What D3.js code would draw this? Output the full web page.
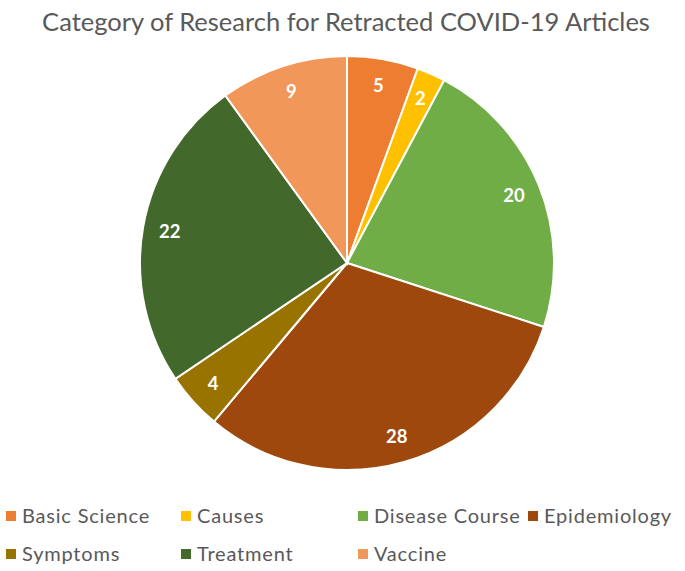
<!DOCTYPE html>
<html>
<head>
<meta charset="utf-8">
<script src="https://cdn.jsdelivr.net/npm/d3@7"></script>
<style>
  body { margin: 0; background: #fff; }
  svg { display: block; font-family: "Lato", "Open Sans", sans-serif; }
</style>
</head>
<body>
<div id="chart"></div>
<script>
// Data
var categories = ["Basic Science", "Causes", "Disease Course", "Epidemiology", "Symptoms", "Treatment", "Vaccine"];
var counts = [5, 2, 20, 28, 4, 22, 9];
var colors = ["#ED7D31", "#FFC000", "#70AD47", "#9E480E", "#997300", "#43682B", "#F1975A"];

var width = 685, height = 571;
var cx = 347, cy = 263, radius = 207;

var svg = d3.select("#chart")
  .append("svg")
  .attr("width", width)
  .attr("height", height);

// Title
svg.append("text")
  .attr("x", 346)
  .attr("y", 31)
  .attr("text-anchor", "middle")
  .attr("fill", "#595959")
  .style("font-size", "25.5px")
  .text("Category of Research for Retracted COVID-19 Articles");

var data = categories.map(function(c, i) {
  return { name: c, value: counts[i], color: colors[i] };
});

var pie = d3.pie()
  .sort(null)
  .value(function(d) { return d.value; });

var arc = d3.arc()
  .innerRadius(0)
  .outerRadius(radius);

var labelArc = d3.arc()
  .innerRadius(radius * 0.87)
  .outerRadius(radius * 0.87);

var g = svg.append("g")
  .attr("transform", "translate(" + cx + "," + cy + ")");

var slices = g.selectAll("g.slice")
  .data(pie(data))
  .enter()
  .append("g")
  .attr("class", "slice");

slices.append("path")
  .attr("d", arc)
  .attr("fill", function(d) { return d.data.color; })
  .attr("stroke", "#fff")
  .attr("stroke-width", 2);

slices.append("text")
  .attr("transform", function(d) { return "translate(" + labelArc.centroid(d) + ")"; })
  .attr("text-anchor", "middle")
  .attr("dy", "0.35em")
  .attr("fill", "#fff")
  .style("font-size", "18.5px")
  .style("font-weight", "bold")
  .text(function(d) { return d.data.value; });

// Legend
var legendPos = [[6, 516], [181, 516], [358, 516], [528, 516], [6, 554], [181, 554], [358, 554]];

var legend = svg.selectAll("g.legend")
  .data(data)
  .enter()
  .append("g")
  .attr("class", "legend")
  .attr("transform", function(d, i) { return "translate(" + legendPos[i][0] + "," + legendPos[i][1] + ")"; });

legend.append("rect")
  .attr("x", 0)
  .attr("y", -5)
  .attr("width", 10)
  .attr("height", 10)
  .attr("fill", function(d) { return d.color; });

legend.append("text")
  .attr("x", 16)
  .attr("dy", "0.35em")
  .attr("fill", "#595959")
  .style("font-size", "20px")
  .style("letter-spacing", "0.8px")
  .text(function(d) { return d.name; });
</script>
</body>
</html>
